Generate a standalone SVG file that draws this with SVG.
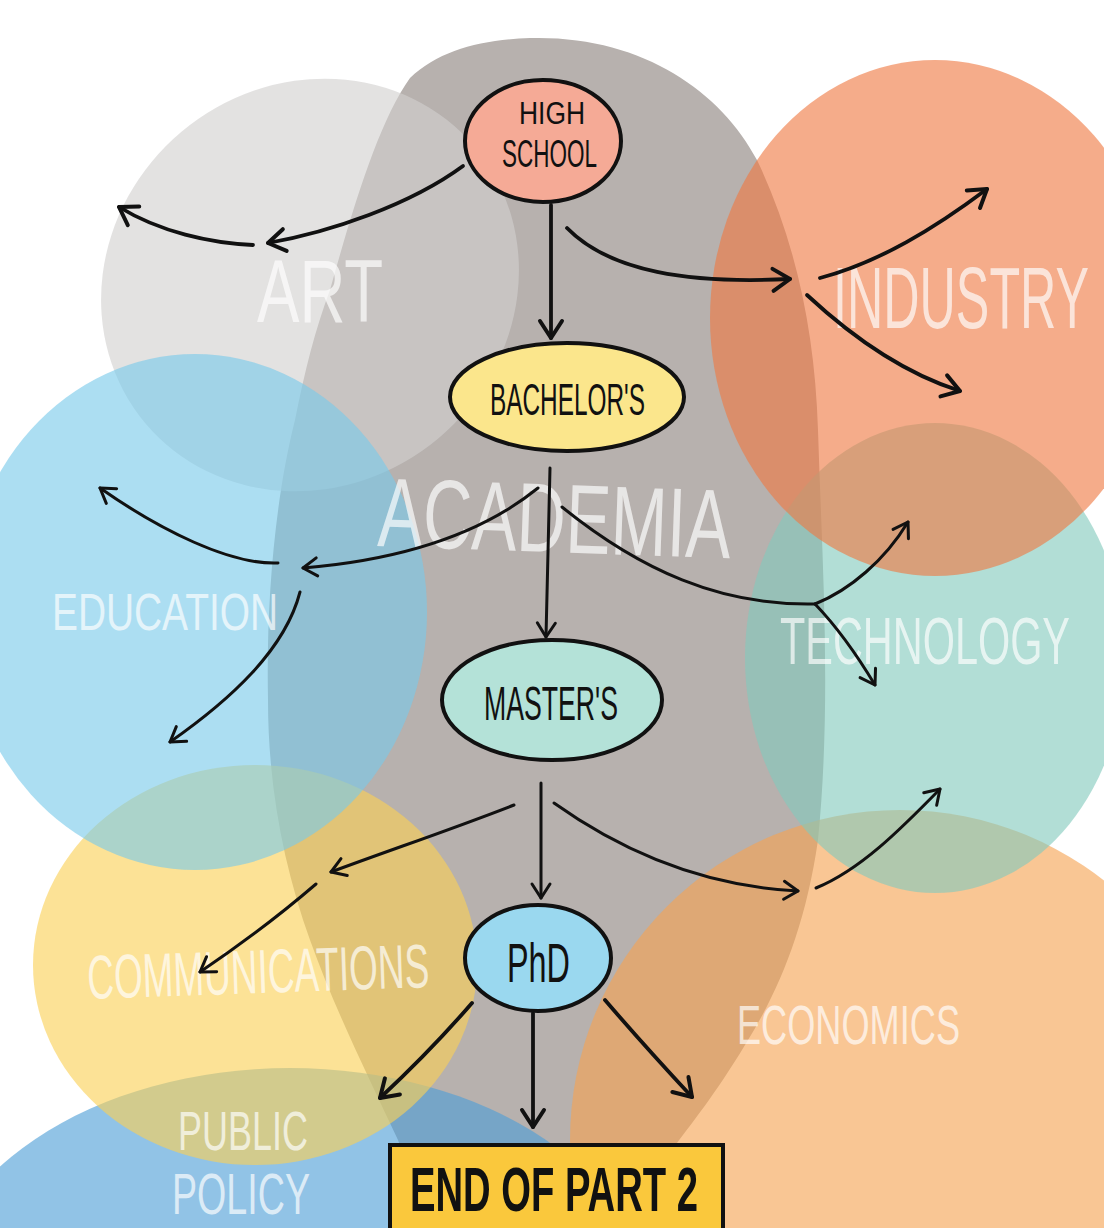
<svg xmlns="http://www.w3.org/2000/svg" width="1104" height="1228" viewBox="0 0 1104 1228">
  <defs>
    <style>
      .blob { opacity: 0.62; }
      .lbl { fill: #ffffff; opacity: 0.68; font-family: "Liberation Sans", Arial, sans-serif; }
      .ntxt { fill: #111111; font-family: "Liberation Sans", Arial, sans-serif; }
      .node { stroke: #111111; stroke-width: 4; }
      .c { fill: none; stroke: #111111; stroke-width: 3; stroke-linecap: round; }
      .ct { fill: none; stroke: #111111; stroke-width: 3.8; stroke-linecap: round; }
    </style>
    <marker id="ah" viewBox="-18 -12 22 24" refX="0" refY="0" markerWidth="22" markerHeight="24" markerUnits="userSpaceOnUse" orient="auto">
      <path d="M-14,-9 L0,0 L-14,9" fill="none" stroke="#111111" stroke-width="3" stroke-linecap="round" stroke-linejoin="round"/>
    </marker>
    <marker id="ahb" viewBox="-22 -14 26 28" refX="0" refY="0" markerWidth="26" markerHeight="28" markerUnits="userSpaceOnUse" orient="auto">
      <path d="M-17,-11 L0,0 L-17,11" fill="none" stroke="#111111" stroke-width="4" stroke-linecap="round" stroke-linejoin="round"/>
    </marker>
  </defs>

  <rect x="0" y="0" width="1104" height="1228" fill="#ffffff"/>

  <g id="regions">
    <path id="region-academia" fill="#b7b1ae" d="M530,38 C640,35 720,90 757,160 C795,240 815,330 818,430 C822,560 832,700 818,840 C805,930 778,992 745,1045 C715,1095 690,1125 672,1150 L640,1228 L430,1228 C415,1190 405,1160 398,1140 C370,1080 335,1010 310,940 C285,870 268,790 268,700 C266,600 275,500 295,420 C305,370 315,330 330,290 C355,200 380,120 410,78 C440,50 480,40 530,38 Z"/>
    <ellipse id="region-publicpolicy" class="blob" fill="#4e9ed7" cx="290" cy="1310" rx="360" ry="242"/>
    <ellipse id="region-communications" class="blob" fill="#fad056" cx="255" cy="965" rx="222" ry="200"/>
    <ellipse id="region-art" class="blob" fill="#d2d0cf" cx="310" cy="285" rx="215" ry="200" transform="rotate(-40 310 285)"/>
    <ellipse id="region-education" class="blob" fill="#79caea" cx="195" cy="612" rx="232" ry="258"/>
    <circle id="region-economics" class="blob" fill="#f5a352" cx="900" cy="1140" r="330"/>
    <ellipse id="region-technology" class="blob" fill="#83cabd" cx="935" cy="658" rx="190" ry="235"/>
    <ellipse id="region-industry" class="blob" fill="#ef7942" cx="935" cy="318" rx="225" ry="258"/>
  </g>

  <g id="region-labels">
    <text class="lbl" transform="translate(257,322) scale(1,1.4)" x="0" y="0" font-size="63" textLength="126" lengthAdjust="spacingAndGlyphs">ART</text>
    <text class="lbl" transform="translate(833,328) scale(1,1.76)" x="0" y="0" font-size="50" textLength="256" lengthAdjust="spacingAndGlyphs">INDUSTRY</text>
    <text class="lbl" transform="translate(377,546) rotate(2) scale(1,1.45)" x="0" y="0" font-size="67.6" textLength="353" lengthAdjust="spacingAndGlyphs">ACADEMIA</text>
    <text class="lbl" transform="translate(52,630) scale(1,1.35)" x="0" y="0" font-size="38.4" textLength="226" lengthAdjust="spacingAndGlyphs">EDUCATION</text>
    <text class="lbl" transform="translate(780,664) scale(1,1.59)" x="0" y="0" font-size="41.4" textLength="290" lengthAdjust="spacingAndGlyphs">TECHNOLOGY</text>
    <text class="lbl" transform="translate(88,999) rotate(-2) scale(1,1.69)" x="0" y="0" font-size="36.6" textLength="342" lengthAdjust="spacingAndGlyphs">COMMUNICATIONS</text>
    <text class="lbl" transform="translate(178,1150) scale(1,1.56)" x="0" y="0" font-size="36" textLength="130" lengthAdjust="spacingAndGlyphs">PUBLIC</text>
    <text class="lbl" transform="translate(172,1214) scale(1,1.54)" x="0" y="0" font-size="37.6" textLength="138" lengthAdjust="spacingAndGlyphs">POLICY</text>
    <text class="lbl" transform="translate(737,1044) scale(1,1.55)" x="0" y="0" font-size="36.2" textLength="223" lengthAdjust="spacingAndGlyphs">ECONOMICS</text>
  </g>

  <g id="connectors">
    <path class="ct" d="M551,205 L551,338" marker-end="url(#ahb)"/>
    <path class="ct" d="M463,166 C410,205 330,232 268,243" marker-end="url(#ahb)"/>
    <path class="ct" d="M253,245 C210,243 160,232 119,207" marker-end="url(#ahb)"/>
    <path class="ct" d="M567,228 C610,272 690,284 790,279" marker-end="url(#ahb)"/>
    <path class="ct" d="M820,278 C880,262 935,228 987,189" marker-end="url(#ahb)"/>
    <path class="ct" d="M807,295 C850,335 900,372 960,391" marker-end="url(#ahb)"/>

    <path class="c" d="M550,468 L546,637" marker-end="url(#ah)"/>
    <path class="c" d="M538,488 C480,535 400,560 303,568" marker-end="url(#ah)"/>
    <path class="c" d="M278,563 C230,565 160,530 100,488" marker-end="url(#ah)"/>
    <path class="c" d="M300,592 C285,650 230,700 170,742" marker-end="url(#ah)"/>
    <path class="c" d="M562,507 C640,570 720,606 815,604"/>
    <path class="c" d="M815,604 C850,590 885,560 908,522" marker-end="url(#ah)"/>
    <path class="c" d="M815,604 C840,630 860,660 875,685" marker-end="url(#ah)"/>

    <path class="c" d="M541,783 L541,898" marker-end="url(#ah)"/>
    <path class="c" d="M514,805 C450,830 390,850 331,872" marker-end="url(#ah)"/>
    <path class="c" d="M316,884 C280,915 240,945 200,972" marker-end="url(#ah)"/>
    <path class="c" d="M554,803 C620,850 700,886 798,891" marker-end="url(#ah)"/>
    <path class="c" d="M816,888 C860,870 900,830 940,789" marker-end="url(#ah)"/>

    <path class="ct" d="M472,1003 C440,1040 410,1070 380,1098" marker-end="url(#ahb)"/>
    <path class="ct" d="M533,1013 L533,1127" marker-end="url(#ahb)"/>
    <path class="ct" d="M605,1000 C635,1035 665,1068 692,1097" marker-end="url(#ahb)"/>
  </g>

  <g id="node-highschool">
    <ellipse class="node" fill="#f5aa96" cx="543" cy="141" rx="78" ry="61"/>
    <text class="ntxt" transform="translate(519,124) scale(1,1.21)" x="0" y="0" font-size="26.4" textLength="66" lengthAdjust="spacingAndGlyphs">HIGH</text>
    <text class="ntxt" transform="translate(502,167) scale(1,1.69)" x="0" y="0" font-size="22.5" textLength="95" lengthAdjust="spacingAndGlyphs">SCHOOL</text>
  </g>
  <g id="node-bachelors">
    <ellipse class="node" fill="#fbe68c" cx="567" cy="397" rx="117" ry="54"/>
    <text class="ntxt" transform="translate(490,415) scale(1,1.8)" x="0" y="0" font-size="24.4" textLength="155" lengthAdjust="spacingAndGlyphs">BACHELOR'S</text>
  </g>
  <g id="node-masters">
    <ellipse class="node" fill="#b4e2d8" cx="552" cy="700" rx="110" ry="60"/>
    <text class="ntxt" transform="translate(484,720) scale(1,1.8)" x="0" y="0" font-size="26.7" textLength="134" lengthAdjust="spacingAndGlyphs">MASTER'S</text>
  </g>
  <g id="node-phd">
    <ellipse class="node" fill="#9ad8ef" cx="538" cy="958" rx="73" ry="53"/>
    <text class="ntxt" transform="translate(507,982) scale(1,1.73)" x="0" y="0" font-size="32.4" textLength="63" lengthAdjust="spacingAndGlyphs">PhD</text>
  </g>
  <g id="node-end">
    <rect class="node" fill="#fac83c" stroke-width="4.5" x="390" y="1145" width="333" height="100"/>
    <text class="ntxt" transform="translate(410,1211) scale(1,1.69)" x="0" y="0" font-size="37.8" font-weight="bold" textLength="288" lengthAdjust="spacingAndGlyphs">END OF PART 2</text>
  </g>
</svg>
